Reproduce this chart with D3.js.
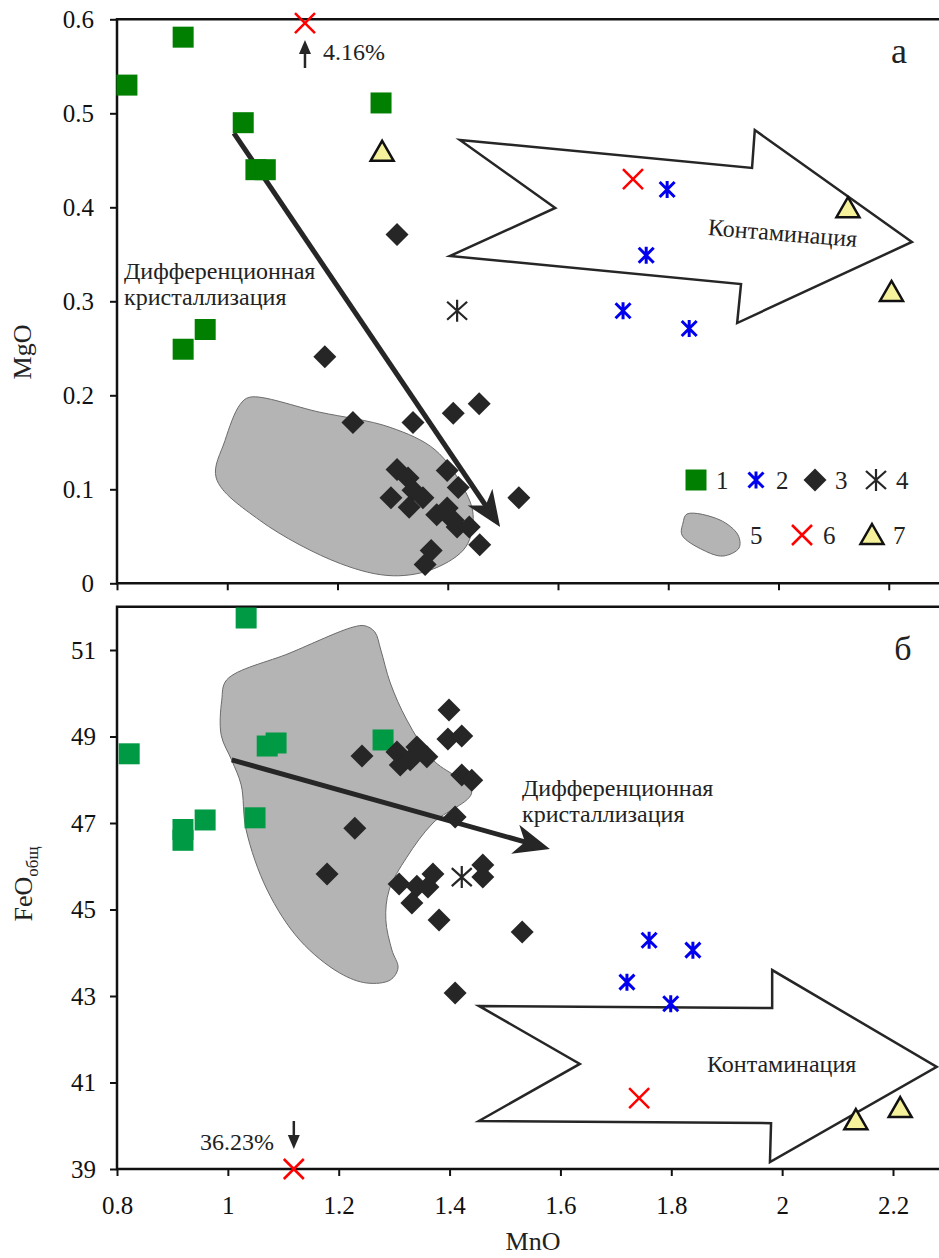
<!DOCTYPE html>
<html>
<head>
<meta charset="utf-8">
<script src="https://cdn.jsdelivr.net/npm/d3@7"></script>
<style>
  body { margin: 0; background: #fff; }
  svg { display: block; }
  svg text { font-family: "Liberation Serif", "DejaVu Serif", "Noto Serif", "Times New Roman", serif; }
</style>
</head>
<body>
<div id="chart"></div>
<script>
// Page size
const W = 939;
const H = 1258;
const SERIF = "'Liberation Serif', 'DejaVu Serif', 'Times New Roman', serif";

// Tick values
const xTicks = [0.8, 1, 1.2, 1.4, 1.6, 1.8, 2, 2.2];
const yTicksA = [0, 0.1, 0.2, 0.3, 0.4, 0.5, 0.6];
const yTicksB = [39, 41, 43, 45, 47, 49, 51];

// Panel a: MnO vs MgO
const a_group1 = [[0.818, 0.530], [0.920, 0.581], [1.029, 0.490], [1.052, 0.440], [1.069, 0.440],
                  [1.279, 0.511], [0.920, 0.249], [0.960, 0.270]];
const a_group2 = [[1.798, 0.419], [1.760, 0.349], [1.718, 0.290], [1.838, 0.271]];
const a_group3 = [[1.308, 0.371], [1.177, 0.241], [1.228, 0.171], [1.337, 0.171], [1.410, 0.181],
                  [1.457, 0.191], [1.529, 0.091], [1.399, 0.120], [1.419, 0.102], [1.308, 0.121],
                  [1.328, 0.112], [1.337, 0.099], [1.355, 0.091], [1.297, 0.091], [1.330, 0.081],
                  [1.380, 0.073], [1.399, 0.080], [1.410, 0.067], [1.417, 0.060], [1.439, 0.060],
                  [1.458, 0.041], [1.370, 0.035], [1.359, 0.020]];
const a_group4 = [[1.417, 0.290]];
const a_group6 = [[1.141, 0.596], [1.736, 0.430]];
const a_group7 = [[1.281, 0.459], [2.126, 0.399], [2.205, 0.310]];

// Panel b: MnO vs FeO total
const b_group1 = [[1.033, 51.74], [0.822, 48.60], [0.919, 46.85], [0.919, 46.60], [0.959, 47.07],
                  [1.049, 47.12], [1.071, 48.78], [1.087, 48.85], [1.280, 48.92]];
const b_group2 = [[1.760, 44.29], [1.839, 44.06], [1.720, 43.32], [1.799, 42.82]];
const b_group3 = [[1.399, 49.61], [1.397, 48.94], [1.422, 49.01], [1.422, 48.11], [1.440, 47.99],
                  [1.242, 48.55], [1.305, 48.64], [1.311, 48.34], [1.329, 48.46], [1.341, 48.76],
                  [1.359, 48.53], [1.410, 47.14], [1.229, 46.88], [1.179, 45.82], [1.309, 45.59],
                  [1.341, 45.54], [1.361, 45.52], [1.370, 45.82], [1.332, 45.15], [1.381, 44.76],
                  [1.460, 46.03], [1.460, 45.75], [1.531, 44.48], [1.410, 43.07]];
const b_group4 = [[1.422, 45.75]];
const b_group6 = [[1.742, 40.64], [1.119, 39.0]];
const b_group7 = [[2.133, 40.13], [2.213, 40.41]];

// Field 5 outlines (data units)
const a_field = [[1.041, 0.198], [1.168, 0.182], [1.295, 0.166], [1.377, 0.142], [1.428, 0.102],
                 [1.446, 0.073], [1.433, 0.039], [1.377, 0.016], [1.301, 0.008], [1.205, 0.021],
                 [1.059, 0.067], [0.980, 0.112], [0.996, 0.152], [1.023, 0.190]];
const b_field = [[0.998, 50.31], [0.989, 49.84], [0.988, 49.03], [1.007, 48.45], [1.024, 47.88],
                 [1.033, 46.84], [1.071, 45.45], [1.130, 44.29], [1.202, 43.53], [1.251, 43.30],
                 [1.293, 43.37], [1.307, 43.65], [1.296, 44.06], [1.285, 44.76], [1.291, 45.45],
                 [1.323, 46.21], [1.370, 47.00], [1.440, 47.72], [1.370, 48.46], [1.323, 49.38],
                 [1.293, 50.24], [1.276, 51.00], [1.265, 51.42], [1.247, 51.56], [1.226, 51.53],
                 [1.112, 50.93]];

// Contamination block arrows (data units)
const a_contam = [[1.422, 0.4716], [1.952, 0.4418], [1.957, 0.4822], [2.242, 0.3631], [1.925, 0.2769],
                  [1.932, 0.3184], [1.404, 0.3482], [1.595, 0.3993]];
const b_contam = [[1.453, 42.77], [1.982, 42.72], [1.982, 43.60], [2.279, 41.36], [1.978, 39.16],
                  [1.980, 40.06], [1.453, 40.11], [1.635, 41.43]];

// Differentiation trend arrows (start, end)
const a_trend = [[1.012, 0.479], [1.495, 0.060]];
const b_trend = [[1.007, 48.46], [1.581, 46.40]];

// Legend labels
const legendRow1 = ["1", "2", "3", "4"];
const legendRow2 = ["5", "6", "7"];

// Scales
const xA = d3.scaleLinear().domain([0.8, 2.2]).range([117, 888.75]);
const yA = d3.scaleLinear().domain([0, 0.6]).range([583.3, 19.3]);
const xB = d3.scaleLinear().domain([0.8, 2.2]).range([117, 893]);
const yB = d3.scaleLinear().domain([39, 52]).range([1169, 606.75]);

const svg = d3.select("#chart").append("svg")
    .attr("width", W)
    .attr("height", H)
    .attr("font-family", SERIF);

// Marker shapes
const shapes = {
    square: "M-10.5,-10.5h21v21h-21z",
    diamond: "M0,-11.5L11.5,0L0,11.5L-11.5,0Z",
    star: "M0,-8.5V8.5M-7.5,-7.5L7.5,7.5M-7.5,7.5L7.5,-7.5",
    bigstar: "M0,-11V11M-10,-9L10,9M-10,9L10,-9",
    cross: "M-10,-10L10,10M-10,10L10,-10",
    triangle: "M0,-11L11.5,9L-11.5,9Z"
};

function styleMarker(sel, type, green) {
    if (type === "square") sel.attr("fill", green).attr("stroke", "none");
    if (type === "diamond") sel.attr("fill", "#262626").attr("stroke", "none");
    if (type === "star") sel.attr("fill", "none").attr("stroke", "#0000ee").attr("stroke-width", 3);
    if (type === "bigstar") sel.attr("fill", "none").attr("stroke", "#262626").attr("stroke-width", 2.2);
    if (type === "cross") sel.attr("fill", "none").attr("stroke", "#ff0000").attr("stroke-width", 2.5);
    if (type === "triangle") sel.attr("fill", "#f6f29c").attr("stroke", "#111").attr("stroke-width", 2.5);
}

function plotGroup(layer, data, sx, sy, type, green) {
    layer.selectAll(null)
        .data(data)
        .join("path")
        .attr("transform", d => `translate(${sx(d[0])},${sy(d[1])})`)
        .attr("d", shapes[type])
        .call(styleMarker, type, green);
}

// Trend arrow with barbed head
function trendArrow(layer, pts, sx, sy) {
    const x0 = sx(pts[0][0]), y0 = sy(pts[0][1]);
    const x1 = sx(pts[1][0]), y1 = sy(pts[1][1]);
    const len = Math.hypot(x1 - x0, y1 - y0);
    const ux = (x1 - x0) / len, uy = (y1 - y0) / len;
    const nx = -uy, ny = ux;
    const L = 36, hw = 15;
    layer.append("line")
        .attr("x1", x0).attr("y1", y0)
        .attr("x2", x1 - ux * L * 0.7).attr("y2", y1 - uy * L * 0.7)
        .attr("stroke", "#262626").attr("stroke-width", 5);
    const head = [
        [x1, y1],
        [x1 - ux * L + nx * hw, y1 - uy * L + ny * hw],
        [x1 - ux * L * 0.72, y1 - uy * L * 0.72],
        [x1 - ux * L - nx * hw, y1 - uy * L - ny * hw]
    ];
    layer.append("path")
        .attr("d", "M" + head.join("L") + "Z")
        .attr("fill", "#262626");
}

function drawPanel(cfg) {
    const g = svg.append("g");
    const {sx, sy, yTicks, yFmt, showXLabels, padY} = cfg;
    const x0 = sx.range()[0];
    const yBottom = sy.range()[0], yTop = sy.range()[1];

    // Gray field
    g.append("path")
        .datum(cfg.field)
        .attr("d", d3.line().x(d => sx(d[0])).y(d => sy(d[1])).curve(d3.curveCatmullRomClosed.alpha(0.5)))
        .attr("fill", "#b3b4b3")
        .attr("stroke", "#6b6b6b")
        .attr("stroke-width", 1);

    // Contamination block arrow
    g.append("path")
        .datum(cfg.contam)
        .attr("d", d3.line().x(d => sx(d[0])).y(d => sy(d[1])).curve(d3.curveLinearClosed))
        .attr("fill", "none")
        .attr("stroke", "#262626")
        .attr("stroke-width", 2.5)
        .attr("stroke-linejoin", "miter");

    trendArrow(g, cfg.trend, sx, sy);

    // Axes
    const yAxis = d3.axisLeft(sy)
        .tickValues(yTicks)
        .tickFormat(yFmt)
        .tickSizeInner(7)
        .tickSizeOuter(0)
        .tickPadding(padY);
    const yg = g.append("g").attr("transform", `translate(${x0},0)`).call(yAxis);
    yg.attr("font-family", SERIF);
    yg.select(".domain").remove();
    yg.selectAll(".tick line").attr("stroke", "#111").attr("stroke-width", 2);
    yg.selectAll(".tick text")
        .attr("font-size", 25)
        .attr("fill", "#111");

    const xAxis = d3.axisBottom(sx)
        .tickValues(xTicks)
        .tickFormat(d => showXLabels ? String(+d.toFixed(1)) : "")
        .tickSizeInner(7)
        .tickSizeOuter(0)
        .tickPadding(20);
    const xg = g.append("g").attr("transform", `translate(0,${yBottom})`).call(xAxis);
    xg.attr("font-family", SERIF);
    xg.select(".domain").remove();
    xg.selectAll(".tick line").attr("stroke", "#111").attr("stroke-width", 2);
    xg.selectAll(".tick text")
        .attr("font-size", 25)
        .attr("fill", "#111");

    // Frame lines: left, bottom, top
    g.append("path")
        .attr("d", `M${W},${yTop}H${x0}V${yBottom}H${W}`)
        .attr("fill", "none")
        .attr("stroke", "#111")
        .attr("stroke-width", 2.5);

    // Points
    plotGroup(g, cfg.g1, sx, sy, "square", cfg.green);
    plotGroup(g, cfg.g3, sx, sy, "diamond");
    plotGroup(g, cfg.g2, sx, sy, "star");
    plotGroup(g, cfg.g4, sx, sy, "bigstar");
    plotGroup(g, cfg.g6, sx, sy, "cross");
    plotGroup(g, cfg.g7, sx, sy, "triangle");

    return g;
}

const gA = drawPanel({
    sx: xA, sy: yA, yTicks: yTicksA, yFmt: d => d === 0 ? "0" : d3.format(".1f")(d),
    showXLabels: false, padY: 16, field: a_field, contam: a_contam, trend: a_trend,
    g1: a_group1, g2: a_group2, g3: a_group3, g4: a_group4, g6: a_group6, g7: a_group7,
    green: "#007f00"
});

const gB = drawPanel({
    sx: xB, sy: yB, yTicks: yTicksB, yFmt: d => String(d),
    showXLabels: true, padY: 14, field: b_field, contam: b_contam, trend: b_trend,
    g1: b_group1, g2: b_group2, g3: b_group3, g4: b_group4, g6: b_group6, g7: b_group7,
    green: "#009a44"
});

// Text helper
function label(g, x, y, txt, size, anchor) {
    return g.append("text")
        .attr("x", x).attr("y", y)
        .attr("font-size", size)
        .attr("font-family", SERIF)
        .attr("text-anchor", anchor || "start")
        .attr("fill", "#222")
        .text(txt);
}

// Panel a annotations
label(gA, 899, 63, "а", 36, "middle");
label(gA, 124, 279, "Дифференционная", 24);
label(gA, 124, 305, "кристаллизация", 24);
gA.append("text")
    .attr("transform", "translate(782,241) rotate(4.6)")
    .attr("font-size", 24)
    .attr("font-family", SERIF)
    .attr("text-anchor", "middle")
    .attr("fill", "#222")
    .text("Контаминация");

// off-scale point marker 4.16%
const offA = xA(a_group6[0][0]);
gA.append("line").attr("x1", offA).attr("x2", offA).attr("y1", 68).attr("y2", 50)
    .attr("stroke", "#262626").attr("stroke-width", 2.5);
gA.append("path").attr("d", `M${offA},40L${offA + 6},54L${offA - 6},54Z`).attr("fill", "#262626");
label(gA, 323, 60, "4.16%", 24);

// Panel b annotations
label(gB, 903, 660, "б", 34, "middle");
label(gB, 522, 796, "Дифференционная", 24);
label(gB, 522, 822, "кристаллизация", 24);
label(gB, 707, 1072, "Контаминация", 24);
const offB = xB(b_group6[1][0]);
gB.append("line").attr("x1", offB).attr("x2", offB).attr("y1", 1121).attr("y2", 1138)
    .attr("stroke", "#262626").attr("stroke-width", 2.5);
gB.append("path").attr("d", `M${offB},1149L${offB + 6},1135L${offB - 6},1135Z`).attr("fill", "#262626");
label(gB, 274, 1150, "36.23%", 24, "end");

// Axis titles
label(svg, 533, 1250, "MnO", 26, "middle");
svg.append("text")
    .attr("transform", "translate(31,352) rotate(-90)")
    .attr("font-size", 26)
    .attr("font-family", SERIF)
    .attr("text-anchor", "middle")
    .attr("fill", "#222")
    .text("MgO");
const feo = svg.append("text")
    .attr("transform", "translate(32,884) rotate(-90)")
    .attr("font-size", 26)
    .attr("font-family", SERIF)
    .attr("text-anchor", "middle")
    .attr("fill", "#222");
feo.append("tspan").text("FeO");
feo.append("tspan").attr("font-size", 17).attr("dy", 6).text("общ");

// Legend (panel a)
const leg = svg.append("g");
const row1Types = ["square", "star", "diamond", "bigstar"];
const row1X = [696, 756, 815, 876];
row1Types.forEach((t, i) => {
    leg.append("path")
        .attr("transform", `translate(${row1X[i]},480)`)
        .attr("d", shapes[t])
        .call(styleMarker, t, "#007f00");
    label(leg, row1X[i] + 20, 489, legendRow1[i], 25);
});
const blob = [[-25, -21], [8, -15], [26, 0], [27, 13], [11, 21], [-9, 15], [-30, 0], [-29, -12]];
leg.append("path")
    .datum(blob)
    .attr("transform", "translate(712,535)")
    .attr("d", d3.line().curve(d3.curveCatmullRomClosed.alpha(0.5)))
    .attr("fill", "#b3b4b3")
    .attr("stroke", "#6b6b6b")
    .attr("stroke-width", 1);
label(leg, 750, 544, legendRow2[0], 25);
const row2Types = ["cross", "triangle"];
const row2X = [802, 872];
row2Types.forEach((t, i) => {
    leg.append("path")
        .attr("transform", `translate(${row2X[i]},535)`)
        .attr("d", shapes[t])
        .call(styleMarker, t);
    label(leg, row2X[i] + 21, 544, legendRow2[i + 1], 25);
});
</script>
</body>
</html>
